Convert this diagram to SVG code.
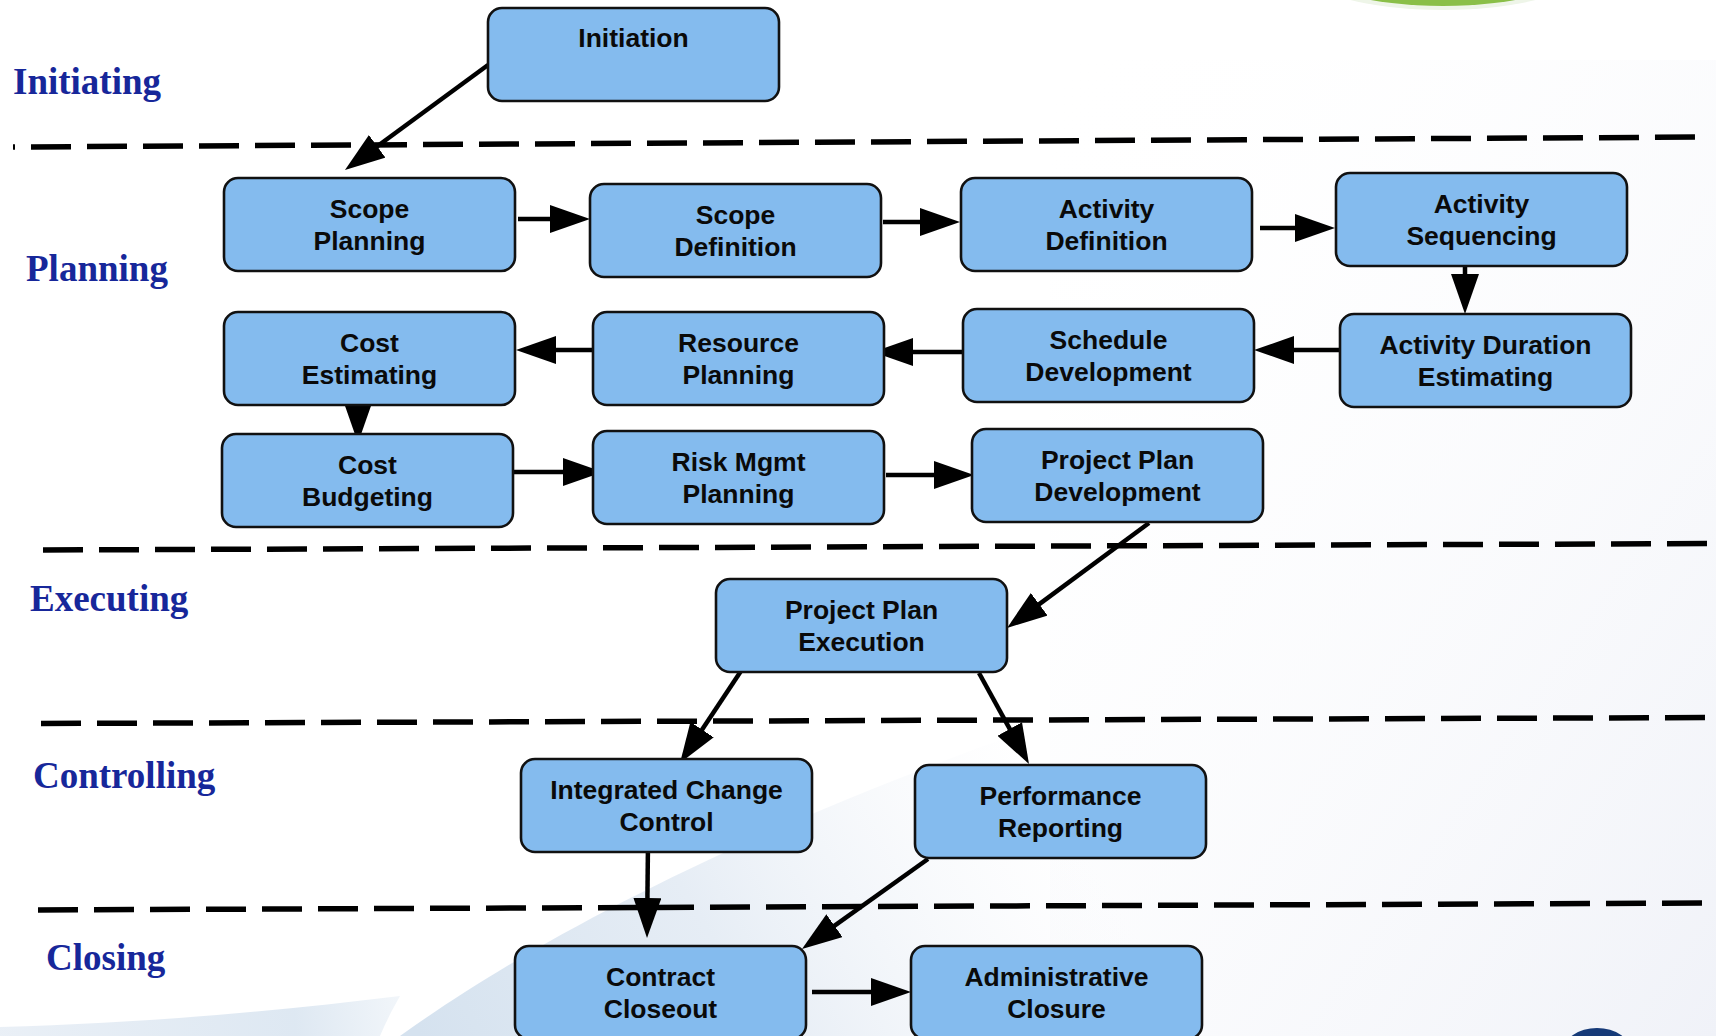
<svg xmlns="http://www.w3.org/2000/svg" width="1716" height="1036" viewBox="0 0 1716 1036">
<defs>
<style>
.box{fill:#84bbee;stroke:#111;stroke-width:2.6}
.t{font-family:"Liberation Sans",Arial,sans-serif;font-weight:bold;font-size:26.5px;fill:#0a0a0a;text-anchor:middle}
.lane{font-family:"Liberation Serif","Times New Roman",serif;font-weight:bold;font-size:37px;fill:#17279a}
.dash{stroke:#000;stroke-width:5.5;stroke-dasharray:40 16;fill:none}
.c{stroke:#000;stroke-width:4.5;fill:none;marker-end:url(#ah)}
</style>
<marker id="ah" markerUnits="userSpaceOnUse" viewBox="0 0 40 28" markerWidth="40" markerHeight="28" refX="2" refY="14" orient="auto">
<path d="M0,0 L40,14 L0,28 z" fill="#000"/>
</marker>
<linearGradient id="rightFade" x1="0" y1="0" x2="1" y2="1">
<stop offset="0" stop-color="#ffffff" stop-opacity="0"/>
<stop offset="1" stop-color="#f0f2f8" stop-opacity="1"/>
</linearGradient>
<linearGradient id="swoosh" gradientUnits="userSpaceOnUse" x1="420" y1="1036" x2="1000" y2="700">
<stop offset="0" stop-color="#d5e2ef"/>
<stop offset="0.45" stop-color="#e6edf5"/>
<stop offset="1" stop-color="#f4f6fa" stop-opacity="0"/>
</linearGradient>
<linearGradient id="band" gradientUnits="userSpaceOnUse" x1="0" y1="1036" x2="420" y2="1000">
<stop offset="0" stop-color="#e6edf5"/>
<stop offset="0.7" stop-color="#d8e4f0"/>
<stop offset="1" stop-color="#d8e4f0" stop-opacity="0.3"/>
</linearGradient>
</defs>

<g id="background">
<rect x="0" y="0" width="1716" height="1036" fill="#ffffff"/>
<rect x="1050" y="60" width="666" height="976" fill="url(#rightFade)"/>
<path d="M400,1036 C520,950 700,850 1000,740 L1716,560 L1716,1036 Z" fill="url(#swoosh)"/>
<path d="M0,1036 L0,1027 C140,1023 270,1012 400,996 C392,1010 386,1022 380,1036 Z" fill="url(#band)" opacity="0.85"/>
<ellipse cx="1443" cy="-30" rx="140" ry="40" fill="#eef5e8"/>
<ellipse cx="1443" cy="-32" rx="134" ry="38" fill="#8abf48"/>
<ellipse cx="1597" cy="1052" rx="34" ry="24" fill="#163a78"/>
</g>

<g id="lanes">
<line class="dash" x1="13" y1="147" x2="1705" y2="137" stroke-dashoffset="38"/>
<line class="dash" x1="43" y1="550" x2="1716" y2="543.5"/>
<line class="dash" x1="41" y1="723.5" x2="1716" y2="717.5"/>
<line class="dash" x1="38" y1="910" x2="1716" y2="903"/>
<text class="lane" x="13" y="94">Initiating</text>
<text class="lane" x="26" y="281">Planning</text>
<text class="lane" x="30" y="611">Executing</text>
<text class="lane" x="33" y="788">Controlling</text>
<text class="lane" x="46" y="970">Closing</text>
</g>

<g id="connectors">
<path class="c" d="M488,65 L375.6,147.5"/>
<path class="c" d="M518,219 L552,219"/>
<path class="c" d="M883,222 L922,222"/>
<path class="c" d="M1260,228 L1297,228"/>
<path class="c" d="M1465,266 L1465,276"/>
<path class="c" d="M1340,350 L1292,350"/>
<path class="c" d="M964,352 L911,352"/>
<path class="c" d="M598,350 L554,350"/>
<path class="c" d="M358,399 L358,405"/>
<path class="c" d="M513,472 L565,472"/>
<path class="c" d="M886,475 L936,475"/>
<path class="c" d="M1149,523 L1037.6,605.4"/>
<path class="c" d="M741,671 L701,731.3"/>
<path class="c" d="M979,673 L1010.7,730.7"/>
<path class="c" d="M648,842 L647.4,900"/>
<path class="c" d="M928,859 L832.9,926.9"/>
<path class="c" d="M812,992 L873,992"/>
</g>

<g id="n-initiation"><rect class="box" x="488" y="8" width="291" height="93" rx="14"/><text class="t" x="633.5" y="47">Initiation</text></g>
<g id="n-scope-planning"><rect class="box" x="224" y="178" width="291" height="93" rx="14"/><text class="t" x="369.5" y="218">Scope</text><text class="t" x="369.5" y="250">Planning</text></g>
<g id="n-scope-definition"><rect class="box" x="590" y="184" width="291" height="93" rx="14"/><text class="t" x="735.5" y="224">Scope</text><text class="t" x="735.5" y="256">Definition</text></g>
<g id="n-activity-definition"><rect class="box" x="961" y="178" width="291" height="93" rx="14"/><text class="t" x="1106.5" y="218">Activity</text><text class="t" x="1106.5" y="250">Definition</text></g>
<g id="n-activity-sequencing"><rect class="box" x="1336" y="173" width="291" height="93" rx="14"/><text class="t" x="1481.5" y="213">Activity</text><text class="t" x="1481.5" y="245">Sequencing</text></g>
<g id="n-cost-estimating"><rect class="box" x="224" y="312" width="291" height="93" rx="14"/><text class="t" x="369.5" y="352">Cost</text><text class="t" x="369.5" y="384">Estimating</text></g>
<g id="n-resource-planning"><rect class="box" x="593" y="312" width="291" height="93" rx="14"/><text class="t" x="738.5" y="352">Resource</text><text class="t" x="738.5" y="384">Planning</text></g>
<g id="n-schedule-development"><rect class="box" x="963" y="309" width="291" height="93" rx="14"/><text class="t" x="1108.5" y="349">Schedule</text><text class="t" x="1108.5" y="381">Development</text></g>
<g id="n-activity-duration"><rect class="box" x="1340" y="314" width="291" height="93" rx="14"/><text class="t" x="1485.5" y="354">Activity Duration</text><text class="t" x="1485.5" y="386">Estimating</text></g>
<g id="n-cost-budgeting"><rect class="box" x="222" y="434" width="291" height="93" rx="14"/><text class="t" x="367.5" y="474">Cost</text><text class="t" x="367.5" y="506">Budgeting</text></g>
<g id="n-risk-mgmt"><rect class="box" x="593" y="431" width="291" height="93" rx="14"/><text class="t" x="738.5" y="471">Risk Mgmt</text><text class="t" x="738.5" y="503">Planning</text></g>
<g id="n-plan-development"><rect class="box" x="972" y="429" width="291" height="93" rx="14"/><text class="t" x="1117.5" y="469">Project Plan</text><text class="t" x="1117.5" y="501">Development</text></g>
<g id="n-plan-execution"><rect class="box" x="716" y="579" width="291" height="93" rx="14"/><text class="t" x="861.5" y="619">Project Plan</text><text class="t" x="861.5" y="651">Execution</text></g>
<g id="n-change-control"><rect class="box" x="521" y="759" width="291" height="93" rx="14"/><text class="t" x="666.5" y="799">Integrated Change</text><text class="t" x="666.5" y="831">Control</text></g>
<g id="n-performance"><rect class="box" x="915" y="765" width="291" height="93" rx="14"/><text class="t" x="1060.5" y="805">Performance</text><text class="t" x="1060.5" y="837">Reporting</text></g>
<g id="n-contract-closeout"><rect class="box" x="515" y="946" width="291" height="93" rx="14"/><text class="t" x="660.5" y="986">Contract</text><text class="t" x="660.5" y="1018">Closeout</text></g>
<g id="n-admin-closure"><rect class="box" x="911" y="946" width="291" height="93" rx="14"/><text class="t" x="1056.5" y="986">Administrative</text><text class="t" x="1056.5" y="1018">Closure</text></g>
</svg>
